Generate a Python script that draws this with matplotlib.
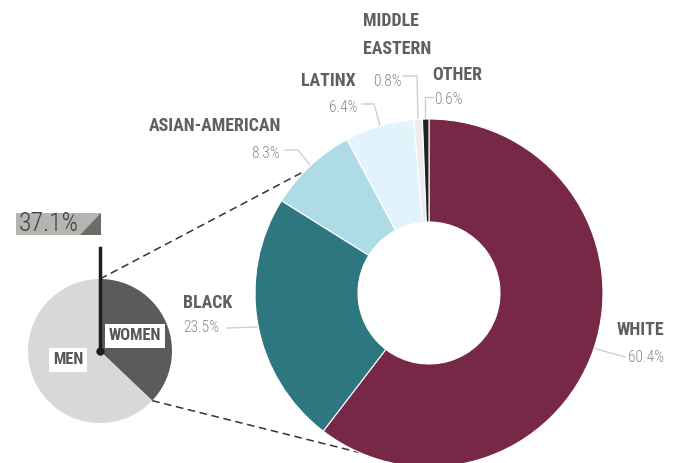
import numpy as np
import matplotlib
matplotlib.use("Agg")
import matplotlib.pyplot as plt
from matplotlib import font_manager
from matplotlib.patches import Rectangle, Polygon

# data
gender_labels = ["WOMEN", "MEN"]
gender_share = [37.1, 62.9]
gender_colors = ["#5b5b5b", "#d8d8d8"]

race_labels = ["WHITE", "BLACK", "ASIAN-AMERICAN", "LATINX", "MIDDLE\nEASTERN", "OTHER"]
race_share = [60.4, 23.5, 8.3, 6.4, 0.8, 0.6]
race_colors = ["#772846", "#2e7780", "#afdbe6", "#e1f3fb", "#ececec", "#222222"]

# label placement (x, y, ha) for name and percent
name_pos = [(664, 133, "right"), (183, 160, "left"), (281, 337, "right"),
            (356, 382, "right"), (363, 428, "left"), (432, 388, "left")]
pct_pos = [(664, 106, "right"), (183, 135, "left"), (280, 310, "right"),
           (357, 356, "right"), (402, 382, "right"), (434, 363, "left")]
leaders = [[(593, 115), (625, 106)],
           [(227, 135), (257, 136)],
           [(285, 313), (298, 313), (310, 298)],
           [(362, 359), (374, 359), (380, 337)],
           [(403, 387), (417, 387), (418, 345)],
           [(433, 366), (425, 366), (425, 345)]]

# pick a narrow font if one is installed
installed = {f.name for f in font_manager.fontManager.ttflist}
narrow = None
for name in ["Liberation Sans Narrow", "Roboto Condensed", "DejaVu Sans Condensed",
             "Open Sans Condensed", "Noto Sans Condensed"]:
    if name in installed:
        narrow = name
        break
font = [narrow or "Liberation Sans", "DejaVu Sans"]
scale = 1.12 if narrow else 1.0

label_col = "#606064"
pct_col = "#8a8a8a"

fig = plt.figure(figsize=(6.75, 4.63), dpi=100)
ax = fig.add_axes([0, 0, 1, 1])

# donut
dc, dr = (429, 170), 174
ax.pie(race_share, colors=race_colors, startangle=90, counterclock=False,
       center=dc, radius=dr, frame=True,
       wedgeprops=dict(width=103, edgecolor="white", linewidth=0.8))

# small pie
pc, pr = (100, 112), 72
ax.pie(gender_share, colors=gender_colors, startangle=90, counterclock=False,
       center=pc, radius=pr, frame=True)
ax.set_xlim(0, 675)
ax.set_ylim(0, 463)
ax.set_aspect("equal")
ax.axis("off")

# dashed connectors from women slice to donut
a0 = np.deg2rad(90)
a1 = np.deg2rad(90 - gender_share[0] * 3.6)
for a_p, a_d in [(a0, np.deg2rad(135.5)), (a1, np.deg2rad(-113.5))]:
    ax.plot([pc[0] + pr * np.cos(a_p), dc[0] + dr * np.cos(a_d)],
            [pc[1] + pr * np.sin(a_p), dc[1] + dr * np.sin(a_d)],
            ls=(0, (5, 3)), color="#333333", lw=1.1, zorder=0)

# value box for women share
ax.add_patch(Rectangle((16, 228), 85, 22, facecolor="#b4b5b0", edgecolor="none"))
ax.add_patch(Polygon([(101, 250), (101, 228), (80, 228)], facecolor="#6b6c67", edgecolor="none"))
ax.text(19, 239, f"{gender_share[0]}%", fontsize=16.5 * scale, color="#3f3f3f",
        family=font, fontweight="light", va="center", ha="left")
ax.plot([pc[0], pc[0]], [pc[1], 215], color="#1e1e1e", lw=2.5, zorder=5)
ax.plot(pc[0], pc[1], "o", color="#1e1e1e", ms=5, zorder=6)

ax.text(135, 127, gender_labels[0], fontsize=10.5 * scale, fontweight="bold", color="#555555",
        family=font, ha="center", va="center", zorder=7,
        bbox=dict(facecolor="white", edgecolor="none", pad=3))
ax.text(68, 103, gender_labels[1], fontsize=10.5 * scale, fontweight="bold", color="#555555",
        family=font, ha="center", va="center", zorder=7,
        bbox=dict(facecolor="white", edgecolor="none", pad=3))

# race labels
for name, pct, npos, ppos, ln in zip(race_labels, race_share, name_pos, pct_pos, leaders):
    ax.text(npos[0], npos[1], name, fontsize=11.5 * scale, fontweight="bold", color=label_col,
            family=font, ha=npos[2], va="center", linespacing=1.75)
    ax.text(ppos[0], ppos[1], f"{pct}%", fontsize=10 * scale, color=pct_col,
            family=font, fontweight="light", ha=ppos[2], va="center")
    xs, ys = zip(*ln)
    ax.plot(xs, ys, color="#cfcfcf", lw=1, zorder=0.5)

plt.savefig("out.png", dpi=100)
